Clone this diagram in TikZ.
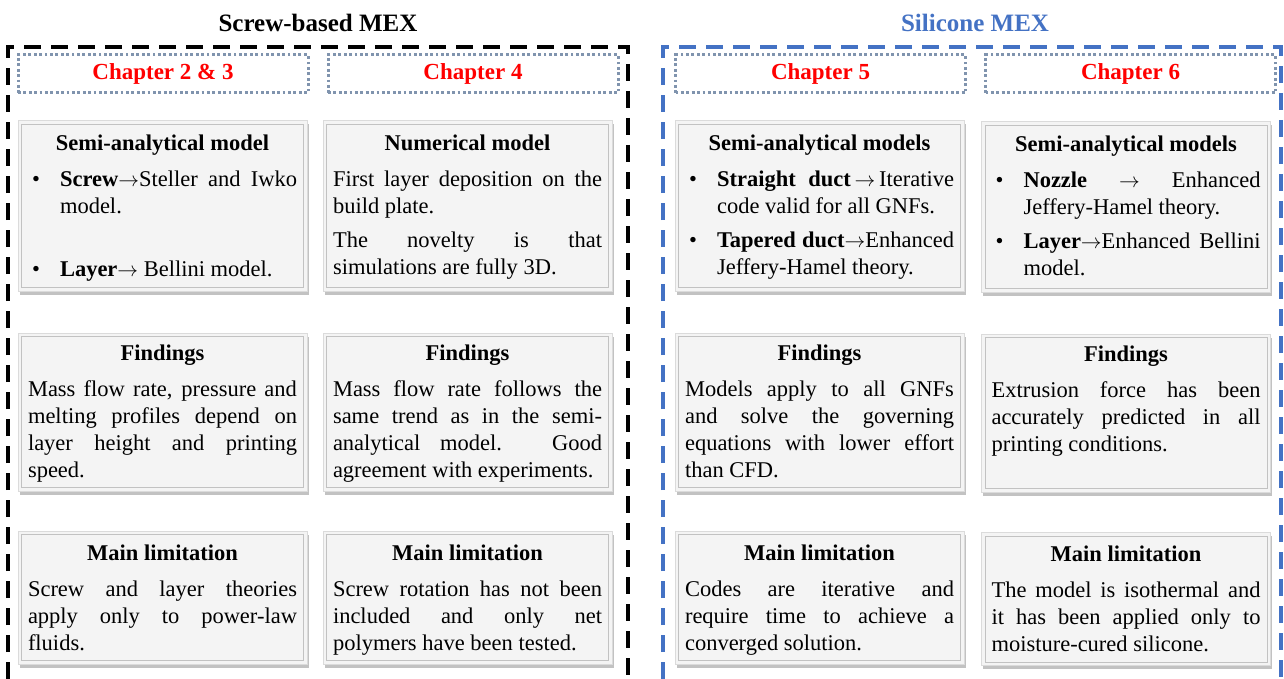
\documentclass[tikz,border=0pt]{standalone}
\usepackage{fontspec}
\setmainfont{Liberation Serif}
\usetikzlibrary{positioning}
\usetikzlibrary{shadows}

\definecolor{mexblue}{HTML}{4472C4}
\definecolor{dotgray}{HTML}{8094AE}
\definecolor{cardfill}{HTML}{F4F4F4}

\tolerance=10000
\hbadness=10000

\newcommand{\cardhead}[1]{{\centering\bfseries #1\par}\vspace{9pt}}
\newcommand{\cardbullet}{\hangindent=32pt\hangafter=1\noindent\makebox[32pt][l]{\hspace{4pt}\textbullet}}
\newcommand{\cardgap}{\par\vspace{7pt}}
\newcommand{\toarrow}{\ensuremath{\rightarrow}}

\tikzset{
	card/.style={draw=black!14, line width=1pt, fill=cardfill, minimum width=289pt, inner sep=0pt,
		drop shadow={shadow xshift=1.5pt, shadow yshift=-3.5pt, fill=black, opacity=.24}},
	bevel/.style={draw=black!24, line width=.8pt},
	cardtext/.style={text width=269pt, align=justify, inner sep=0pt, font=\fontsize{22.5}{27}\selectfont},
	chapter/.style={draw=dotgray, line width=3pt, dash pattern=on 2.8pt off 2.6pt,
		minimum width=290pt, minimum height=38pt, text=red, font=\fontsize{23}{27}\selectfont\bfseries},
	frame/.style={line width=4pt, dash pattern=on 17pt off 10pt},
	title/.style={font=\fontsize{25}{30}\selectfont\bfseries}
}

\begin{document}
\begin{tikzpicture}[x=1pt,y=-1pt]
	\useasboundingbox (0,0) rectangle (1284,679);

	% group titles and frames
	\node[title] (screw) at (318,23) {Screw-based MEX};
	\node[title, text=mexblue] (silicone) at (975,23) {Silicone MEX};
	\coordinate (sw1) at (8,679);
	\coordinate (sw2) at (628,679);
	\coordinate (bl1) at (663,679);
	\coordinate (bl2) at (1281,679);
	\draw[frame] (sw1) -- (sw1 |- 0,47) -- (sw2 |- 0,47) -- (sw2);
	\draw[frame, mexblue] (bl1) -- (bl1 |- 0,47) -- (bl2 |- 0,47) -- (bl2);

	% chapter labels
	\node[chapter] (ch23) at (163,74) {\raisebox{-2pt}{Chapter 2 \& 3}};
	\node[chapter] (ch4) at (473,74) {\raisebox{-2pt}{Chapter 4}};
	\node[chapter] (ch5) at (820.5,74) {\raisebox{-2pt}{Chapter 5}};
	\node[chapter] (ch6) at (1130.5,74) {\raisebox{-2pt}{Chapter 6}};

	% cards
	\node[card, minimum height=170pt] (semi1) at (162.5,206) {};
	\node[card, minimum height=170pt] (num2) at (467.5,206) {};
	\node[card, minimum height=170pt] (semi3) at (819.5,206) {};
	\node[card, minimum height=170pt] (semi4) at (1126,207) {};
	\node[card, minimum height=158pt] (find1) at (162.5,412) {};
	\node[card, minimum height=158pt] (find2) at (467.5,412) {};
	\node[card, minimum height=158pt] (find3) at (819.5,412) {};
	\node[card, minimum height=158pt] (find4) at (1126,413) {};
	\node[card, minimum height=133pt] (limit1) at (162.5,597.5) {};
	\node[card, minimum height=133pt] (limit2) at (467.5,597.5) {};
	\node[card, minimum height=133pt] (limit3) at (819.5,597.5) {};
	\node[card, minimum height=133pt] (limit4) at (1126,599) {};
	\foreach \b in {semi1,num2,semi3,semi4,find1,find2,find3,find4,limit1,limit2,limit3,limit4}
		\draw[bevel] ([shift={(4pt,4pt)}]\b.south west) rectangle ([shift={(-4pt,-4pt)}]\b.north east);

	% card texts
	\node[cardtext, below=14pt of semi1.north] (semi1txt) {\cardhead{Semi-analytical model}
		\cardbullet\textbf{Screw}\toarrow Steller and Iwko\linebreak model.\par\vspace{36pt}
		\cardbullet\textbf{Layer}\toarrow{} Bellini model.\par};
	\node[cardtext, below=14pt of num2.north] (num2txt) {\cardhead{Numerical model}
		First layer deposition on the\linebreak build plate.\cardgap
		The novelty is that\linebreak simulations are fully 3D.\par};
	\node[cardtext, below=14pt of semi3.north] (semi3txt) {\cardhead{Semi-analytical models}
		\cardbullet\textbf{Straight duct}\,\toarrow\,Iterative\linebreak code valid for all GNFs.\cardgap
		\cardbullet\textbf{Tapered duct}\toarrow Enhanced\linebreak Jeffery-Hamel theory.\par};
	\node[cardtext, below=14pt of semi4.north] (semi4txt) {\cardhead{Semi-analytical models}
		\cardbullet\textbf{Nozzle} \toarrow{} Enhanced\linebreak Jeffery-Hamel theory.\cardgap
		\cardbullet\textbf{Layer}\toarrow Enhanced Bellini\linebreak model.\par};

	\node[cardtext, below=12pt of find1.north] (find1txt) {\cardhead{Findings}
		Mass flow rate, pressure and\linebreak melting profiles depend on\linebreak
		layer height and printing\linebreak speed.\par};
	\node[cardtext, below=12pt of find2.north] (find2txt) {\cardhead{Findings}
		Mass flow rate follows the\linebreak same trend as in the semi-\linebreak
		analytical model. Good\linebreak agreement with experiments.\par};
	\node[cardtext, below=12pt of find3.north] (find3txt) {\cardhead{Findings}
		Models apply to all GNFs\linebreak and solve the governing\linebreak
		equations with lower effort\linebreak than CFD.\par};
	\node[cardtext, below=12pt of find4.north] (find4txt) {\cardhead{Findings}
		Extrusion force has been\linebreak accurately predicted in all\linebreak
		printing conditions.\par};

	\node[cardtext, below=14pt of limit1.north] (limit1txt) {\cardhead{Main limitation}
		Screw and layer theories\linebreak apply only to power-law\linebreak fluids.\par};
	\node[cardtext, below=14pt of limit2.north] (limit2txt) {\cardhead{Main limitation}
		Screw rotation has not been\linebreak included and only net\linebreak
		polymers have been tested.\par};
	\node[cardtext, below=14pt of limit3.north] (limit3txt) {\cardhead{Main limitation}
		Codes are iterative and\linebreak require time to achieve a\linebreak
		converged solution.\par};
	\node[cardtext, below=14pt of limit4.north] (limit4txt) {\cardhead{Main limitation}
		The model is isothermal and\linebreak it has been applied only to\linebreak
		moisture-cured silicone.\par};
\end{tikzpicture}
\end{document}
